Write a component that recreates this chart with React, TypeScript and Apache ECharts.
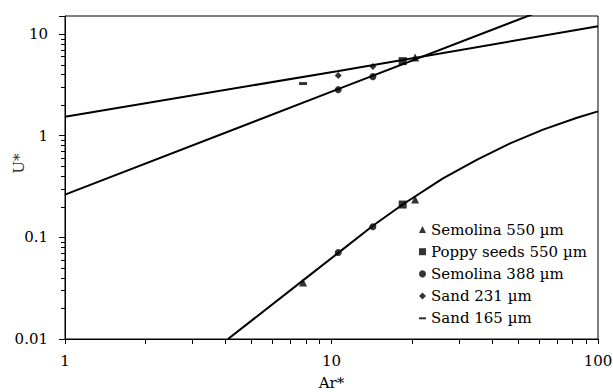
import { useEffect, useRef } from 'react';
import * as echarts from 'echarts';

// Axis ranges and tick labels
const X_MIN = 1;
const X_MAX = 100;
const Y_MIN = 0.01;
const Y_MAX = 15;
const xTickLabels = ['1', '10', '100'];
const yTickLabels = ['0.01', '0.1', '1', '10'];
const xMinorTicks = [2, 3, 4, 5, 6, 7, 8, 9, 20, 30, 40, 50, 60, 70, 80, 90];
const yMinorTicks = [
  0.02, 0.03, 0.04, 0.05, 0.06, 0.07, 0.08, 0.09,
  0.2, 0.3, 0.4, 0.5, 0.6, 0.7, 0.8, 0.9,
  2, 3, 4, 5, 6, 7, 8, 9,
];

// Fitted curves
const lineA_Ar = [1, 10.5, 100];
const lineA_U = [1.53, 4.3, 11.9];
const lineB_Ar = [1, 10.46, 60];
const lineB_U = [0.263, 2.83, 16.5];
const curveC_Ar = [4.09, 7.82, 10.6, 14.3, 18.5, 26.2, 35.2, 46.8, 62.2, 83.4, 100];
const curveC_U = [0.01, 0.0377, 0.0703, 0.13, 0.21, 0.38, 0.581, 0.84, 1.146, 1.5, 1.73];

// Measured points [Ar*, U*]
const semolina550 = [[7.82, 0.036], [20.6, 0.235], [20.6, 5.85]];
const poppy550 = [[18.5, 0.21], [18.5, 5.4]];
const semolina388 = [[10.6, 0.071], [14.3, 0.127], [10.6, 2.83], [14.3, 3.8]];
const sand231 = [[10.6, 3.89], [14.3, 4.77]];
const sand165 = [[7.82, 3.25]];

const seriesNames = ['Semolina 550 µm', 'Poppy seeds 550 µm', 'Semolina 388 µm', 'Sand 231 µm', 'Sand 165 µm'];
const DASH_ICON = 'path://M0,0h9v2.6h-9z';

export default function App() {
  const ref = useRef<HTMLDivElement>(null);
  useEffect(() => {
    const chart = echarts.init(ref.current!, null, { renderer: 'svg' });
    const font = 'DejaVu Serif';
    const pair = (xs: number[], ys: number[]) => xs.map((x, i) => [x, ys[i]]);
    const isPow10 = (v: number) => Math.abs(Math.log10(v) - Math.round(Math.log10(v))) < 1e-6;
    const lineSeries = (name: string, xs: number[], ys: number[]) => ({
      type: 'line', name, data: pair(xs, ys), showSymbol: false, symbol: 'none',
      lineStyle: { color: '#000', width: 2 }, itemStyle: { color: '#000' }, silent: true, z: 2, clip: true,
    });
    const scatter = (name: string, data: number[][], symbol: string, size: any) => ({
      type: 'scatter', name, data, symbol, symbolSize: size, itemStyle: { color: '#000' }, z: 3,
    });
    chart.setOption({
      animation: false,
      backgroundColor: '#fff',
      grid: {
        left: 65, right: 15, top: 16, bottom: 53, show: true, borderColor: '#000', borderWidth: 1,
        outerBoundsMode: 'none', containLabel: false,
      },
      xAxis: {
        type: 'log', logBase: 10, min: X_MIN, max: X_MAX,
        name: 'Ar*', nameLocation: 'middle', nameGap: 36,
        nameTextStyle: { fontFamily: font, fontSize: 15, color: '#000' },
        axisLine: { lineStyle: { color: '#000', width: 1 } },
        axisTick: { show: true, inside: false, length: 5, lineStyle: { color: '#000' } },
        axisLabel: {
          margin: 14, fontFamily: font, fontSize: 15, color: '#000',
          formatter: (v: number) => (isPow10(v) ? xTickLabels[Math.round(Math.log10(v / X_MIN))] ?? '' : ''),
        },
        splitLine: { show: false },
        minorTick: { show: false },
      },
      yAxis: {
        type: 'log', logBase: 10, min: Y_MIN, max: Y_MAX,
        name: 'U*', nameLocation: 'middle', nameGap: 39, nameMoveOverlap: false,
        nameTextStyle: { fontFamily: font, fontSize: 15, color: '#333', padding: [0, 0, 0, 28] },
        axisLine: { lineStyle: { color: '#000', width: 1 } },
        axisTick: { show: true, inside: false, length: 6, lineStyle: { color: '#000' } },
        axisLabel: {
          margin: 17, fontFamily: font, fontSize: 15, color: '#000',
          formatter: (v: number) => (isPow10(v) ? yTickLabels[Math.round(Math.log10(v / Y_MIN))] ?? '' : ''),
        },
        splitLine: { show: false },
        minorTick: { show: false },
      },
      legend: {
        orient: 'vertical', left: 419, top: 222, padding: 0,
        itemWidth: 7, itemHeight: 7, itemGap: 7.2, itemTextGap: 4,
        symbolKeepAspect: true,
        textStyle: { fontFamily: font, fontSize: 15, color: '#000', lineHeight: 15 },
        data: [
          { name: seriesNames[0], icon: 'triangle' },
          { name: seriesNames[1], icon: 'rect' },
          { name: seriesNames[2], icon: 'circle' },
          { name: seriesNames[3], icon: 'diamond' },
          { name: seriesNames[4], icon: DASH_ICON },
        ],
      },
      series: [
        lineSeries('fitA', lineA_Ar, lineA_U),
        lineSeries('fitB', lineB_Ar, lineB_U),
        lineSeries('fitC', curveC_Ar, curveC_U),
        scatter(seriesNames[0], semolina550, 'triangle', 8),
        scatter(seriesNames[1], poppy550, 'rect', 8),
        scatter(seriesNames[2], semolina388, 'circle', 7),
        scatter(seriesNames[3], sand231, 'diamond', 7),
        scatter(seriesNames[4], sand165, 'rect', [8, 3]),
      ],
    });
    // Minor ticks placed through the chart's own log scales
    const ticks: any[] = [];
    xMinorTicks.forEach((v) => {
      const p = chart.convertToPixel({ gridIndex: 0 }, [v, Y_MIN]) as number[];
      const x = Math.round(p[0]) + 0.5;
      ticks.push({ type: 'line', shape: { x1: x, y1: p[1], x2: x, y2: p[1] + 5 }, style: { stroke: '#000', lineWidth: 1 } });
    });
    yMinorTicks.forEach((v) => {
      const p = chart.convertToPixel({ gridIndex: 0 }, [X_MIN, v]) as number[];
      const y = Math.round(p[1]) + 0.5;
      ticks.push({ type: 'line', shape: { x1: p[0] - 4, y1: y, x2: p[0], y2: y }, style: { stroke: '#000', lineWidth: 1 } });
    });
    chart.setOption({ graphic: ticks });
    return () => chart.dispose();
  }, []);
  return (
    <div
      ref={ref}
      style={{ position: 'fixed', left: 0, top: 0, width: 613, height: 392, background: '#fff' }}
    />
  );
}
